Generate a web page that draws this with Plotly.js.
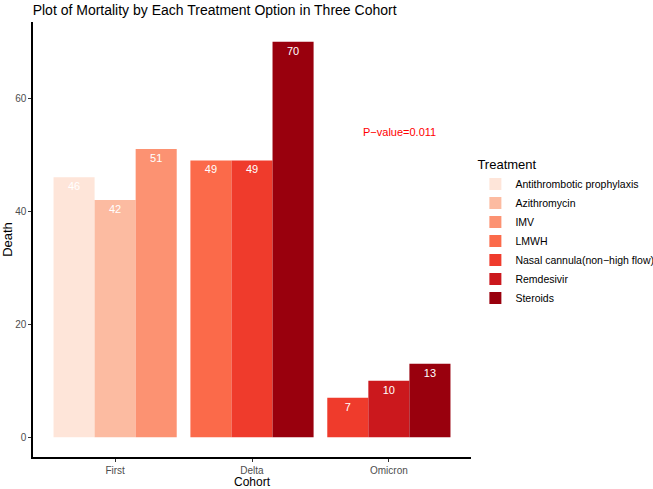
<!DOCTYPE html>
<html>
<head>
<meta charset="utf-8">
<script src="https://cdn.plot.ly/plotly-3.0.1.min.js"></script>
<style>body{margin:0;background:#fff}#gd{width:653px;height:489px}</style>
</head>
<body>
<div id="gd"></div>
<script>
var cohorts = ["First", "Delta", "Omicron"];
var treatments = ["Antithrombotic prophylaxis", "Azithromycin", "IMV", "LMWH",
  "Nasal cannula(non\u2212high flow)", "Remdesivir", "Steroids"];
var colors = ["#FEE5D9", "#FCBBA1", "#FC9272", "#FB6A4A", "#EF3B2C", "#CB181D", "#99000D"];

// deaths per treatment, null = not in that cohort
var deathFirst = [46, 42, 51, null, null, null, null];
var deathDelta = [null, null, null, 49, 49, null, 70];
var deathOmicron = [null, null, null, null, 7, 10, 13];
var deaths = [deathFirst, deathDelta, deathOmicron];

// dodge like ggplot: bars share 0.9 of each cohort slot
var data = treatments.map(function (t, ti) {
  var xs = [], ys = [], offs = [], ws = [];
  cohorts.forEach(function (c, ci) {
    var v = deaths[ci][ti];
    if (v === null) return;
    var present = deaths[ci].map(function (d, k) { return d === null ? -1 : k; })
      .filter(function (k) { return k >= 0; });
    var n = present.length, i = present.indexOf(ti);
    xs.push(c); ys.push(v);
    offs.push(-0.45 + 0.9 / n * i); ws.push(0.9 / n);
  });
  return {
    type: "bar", name: t, x: xs, y: ys, offset: offs, width: ws,
    marker: {color: colors[ti]},
    text: ys.map(String), textposition: "inside", insidetextanchor: "end",
    textfont: {color: "white", size: 11}, constraintext: "none",
    hoverinfo: "x+y+name"
  };
});

var layout = {
  width: 653, height: 489,
  margin: {l: 33, r: 182, t: 22, b: 32, autoexpand: false},
  paper_bgcolor: "white", plot_bgcolor: "white",
  font: {family: "Liberation Sans, Arial, sans-serif", color: "#000"},
  title: {text: "Plot of Mortality by Each Treatment Option in Three Cohort",
    x: 0.05, xanchor: "left", y: 0.99, yanchor: "top", font: {size: 14, color: "#000"}},
  barmode: "overlay",
  showlegend: true,
  legend: {
    title: {text: "Treatment", font: {size: 13}},
    x: 1.01, xanchor: "left", y: 0.7, yanchor: "top",
    font: {size: 10.5}, traceorder: "normal", itemsizing: "constant"
  },
  xaxis: {
    type: "category", range: [-0.6, 2.6],
    showline: true, linecolor: "#000", linewidth: 1.5,
    ticks: "outside", ticklen: 3, tickcolor: "#333",
    showgrid: false, zeroline: false,
    tickfont: {size: 10, color: "#4D4D4D"}
  },
  yaxis: {
    range: [-3.5, 73.5], tickvals: [0, 20, 40, 60],
    showline: true, linecolor: "#000", linewidth: 1.5,
    ticks: "outside", ticklen: 3, tickcolor: "#333",
    showgrid: false, zeroline: false,
    tickfont: {size: 10, color: "#4D4D4D"},
    title: {text: "Death", font: {size: 13}, standoff: 4}
  },
  annotations: [{
    x: 2.08, y: 54, xref: "x", yref: "y", text: "P\u2212value=0.011",
    showarrow: false, font: {size: 11, color: "#FF0000"}
  }, {
    // x axis title, set tight under the tick labels as in the reference
    x: 0.5, y: 0, xref: "paper", yref: "paper", yanchor: "top", yshift: -16,
    text: "Cohort", showarrow: false, font: {size: 12, color: "#000"}
  }]
};

Plotly.newPlot("gd", data, layout, {displayModeBar: false});
</script>
</body>
</html>
